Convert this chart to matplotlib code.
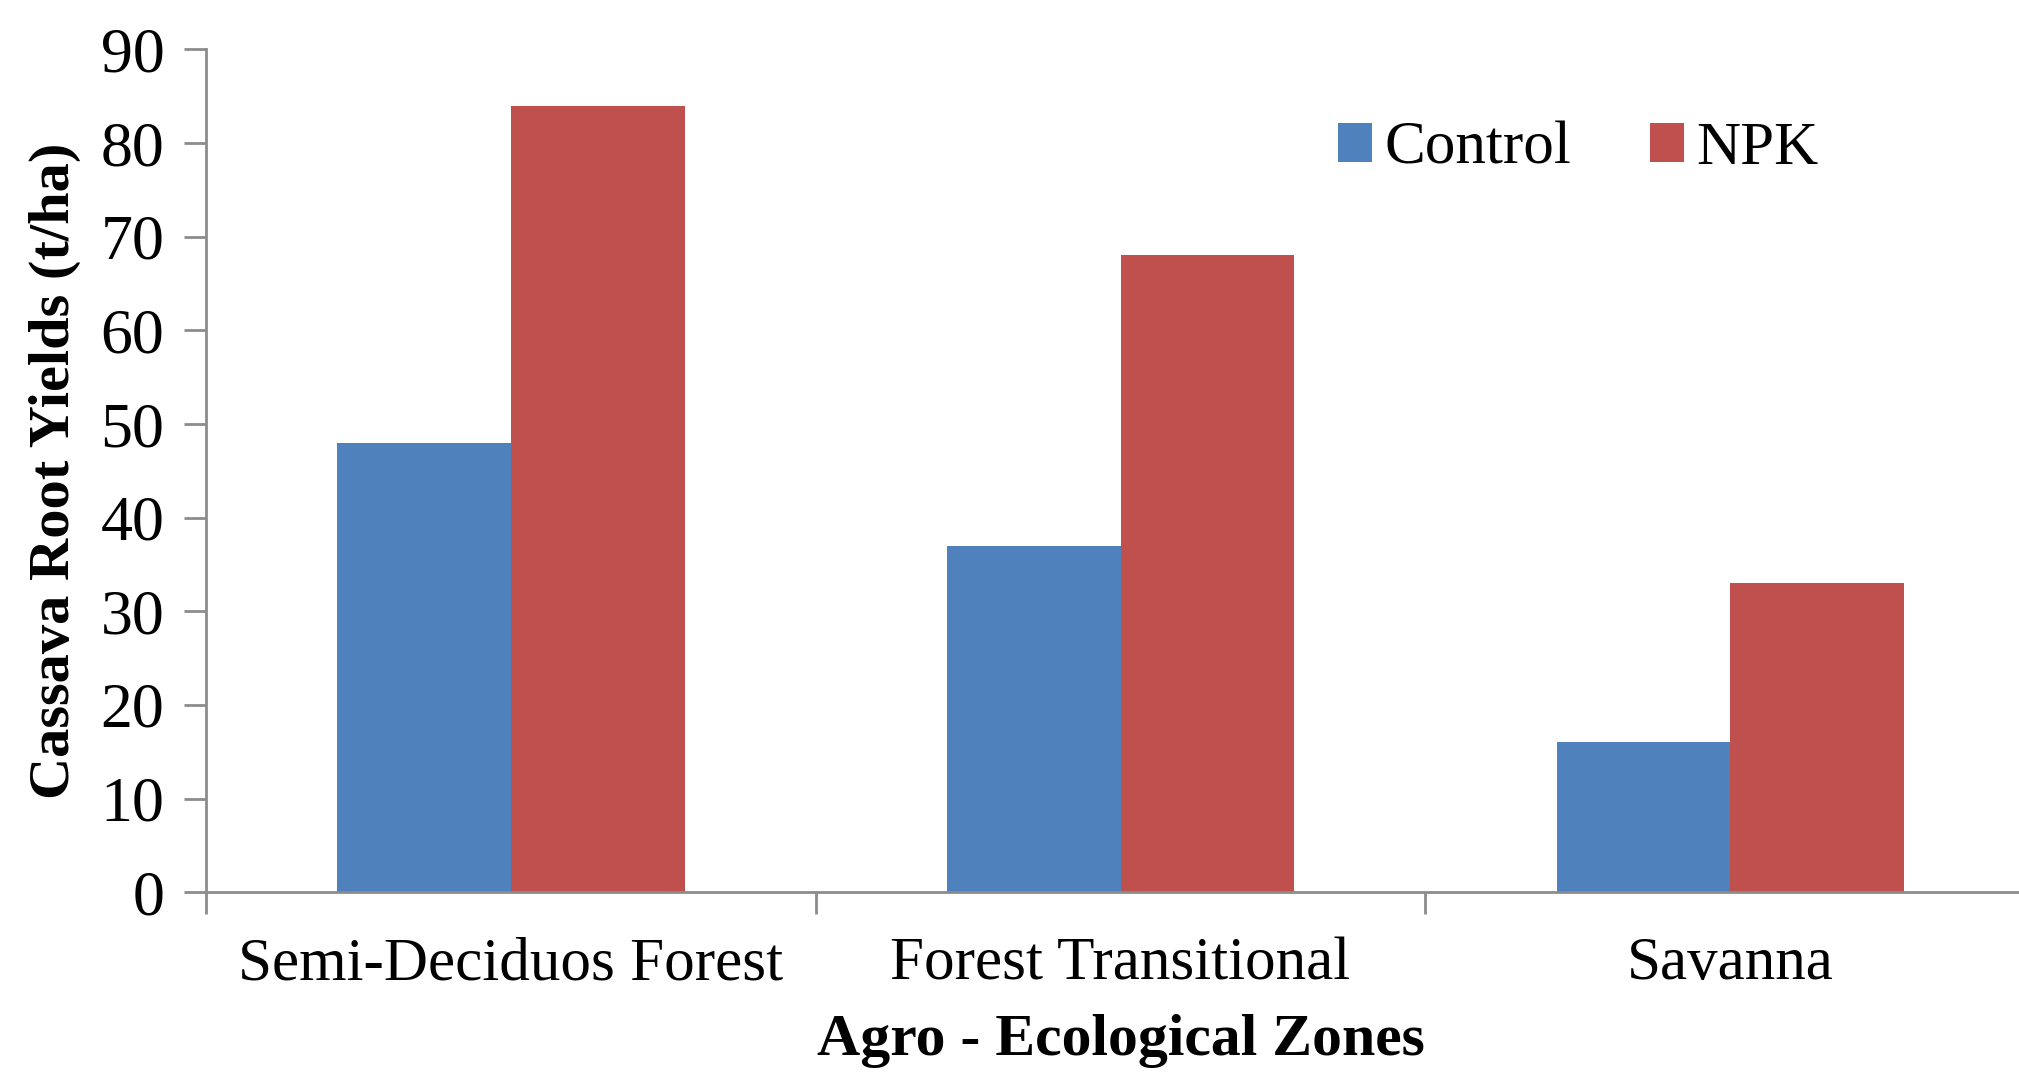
import numpy as np
import matplotlib.pyplot as plt

# Rendimento de raízes de mandioca por zona agroecológica
zonas = ["Semi-Deciduos Forest", "Forest Transitional", "Savanna"]
controle = [48, 37, 16]
npk = [84, 68, 33]
y_ticks = [0, 10, 20, 30, 40, 50, 60, 70, 80, 90]

plt.rcParams['font.family'] = ['Liberation Serif', 'DejaVu Serif']

fig = plt.figure(figsize=(20.19, 10.75), dpi=100)
ax = fig.add_axes([0.102, 0.170, 0.906, 0.784])

x = np.arange(len(zonas))
largura = 0.285
cor_eixo = '#8c8c8c'

ax.bar(x - largura / 2, controle, largura, color='#4F81BD', label='Control')
ax.bar(x + largura / 2, npk, largura, color='#C0504D', label='NPK')

ax.set_xlim(-0.5, len(zonas) - 0.5)
ax.set_ylim(0, 90)
ax.set_yticks(y_ticks)
ax.set_yticklabels([str(v) for v in y_ticks], fontsize=46)

# ticks do eixo x ficam entre as categorias, rótulos no centro
ax.set_xticks(np.arange(len(zonas) + 1) - 0.5)
ax.set_xticklabels([])
ax.set_xticks(x, minor=True)
ax.set_xticklabels(zonas, minor=True, fontsize=44)
ax.tick_params(axis='x', which='minor', length=0, pad=32)
ax.tick_params(axis='x', which='major', length=16, width=2, color=cor_eixo)
ax.tick_params(axis='y', length=16, width=2, color=cor_eixo, pad=14)

for lado in ['top', 'right']:
    ax.spines[lado].set_visible(False)
for lado in ['left', 'bottom']:
    ax.spines[lado].set_color(cor_eixo)
    ax.spines[lado].set_linewidth(2)

ax.set_ylabel('Cassava Root Yields (t/ha)', fontsize=42, fontweight='bold', labelpad=14)
ax.set_xlabel('Agro - Ecological Zones', fontsize=43, fontweight='bold', labelpad=16)

ax.legend(loc='upper left', bbox_to_anchor=(0.589, 0.98), ncol=2, frameon=False,
          fontsize=44, handlelength=0.55, handleheight=0.6, handletextpad=0.2,
          columnspacing=1.3)

fig.savefig('out.png', dpi=100)
